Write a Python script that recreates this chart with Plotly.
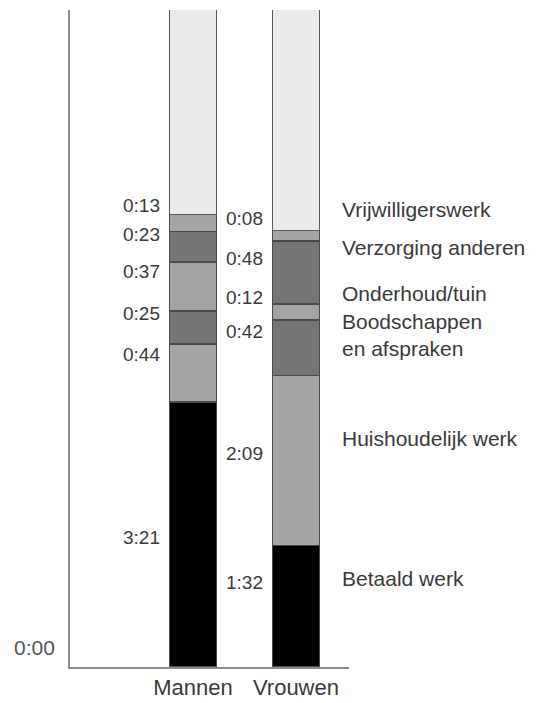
import plotly.graph_objects as go

categories = ["Mannen", "Vrouwen"]
activities = ["Betaald werk", "Huishoudelijk werk", "Boodschappen<br>en afspraken",
              "Onderhoud/tuin", "Verzorging anderen", "Vrijwilligerswerk"]
mannen = [201, 44, 25, 37, 23, 13]      # minutes per day
vrouwen = [92, 129, 42, 12, 48, 8]
day_minutes = 1440

colors = ["#000000", "#a4a4a4", "#767676", "#a4a4a4", "#767676", "#a4a4a4"]
rest_color = "#ebebeb"

# label vertical offsets (minutes) relative to segment centres - layout only
off_m = [-2.5, 14, 10.5, 11.5, 9.5, 13.5]
off_v = [18, 5.5, 12, 11, 11, 13]
off_r = [21, 17, 10, 14, 19, 20]

FONT = "Liberation Sans, Arial, sans-serif"
TXT = "#3a3a3a"

fig = go.Figure()
for k, act in enumerate(activities):
    fig.add_trace(go.Bar(
        x=[0, 1], y=[mannen[k], vrouwen[k]], name=act,
        marker=dict(color=colors[k], line=dict(color="#4a4a4a", width=1.5)),
        width=0.46, showlegend=False, hoverinfo="skip"))
fig.add_trace(go.Bar(
    x=[0, 1], y=[day_minutes - sum(mannen), day_minutes - sum(vrouwen)],
    marker=dict(color=rest_color, line=dict(color="#5a5a5a", width=1.5)),
    width=0.46, showlegend=False, hoverinfo="skip"))

def fmt(m):
    return f"{m // 60}:{m % 60:02d}"

ann = []
for i, (vals, offs) in enumerate([(mannen, off_m), (vrouwen, off_v)]):
    base = 0
    for k, v in enumerate(vals):
        c = base + v / 2
        ann.append(dict(x=i - 0.3, y=c + offs[k], xref="x", yref="y", text=fmt(v),
                        showarrow=False, xanchor="right", yanchor="middle",
                        font=dict(family=FONT, size=19, color=TXT)))
        base += v
base = 0
for k, v in enumerate(vrouwen):
    c = base + v / 2
    ann.append(dict(x=1.43, y=c + off_r[k], xref="x", yref="y", text=activities[k],
                    showarrow=False, xanchor="left", yanchor="middle", align="left",
                    font=dict(family=FONT, size=21, color=TXT)))
    base += v
ann.append(dict(x=0, y=0, xref="paper", yref="y", text="0:00", showarrow=False,
                xanchor="right", yanchor="bottom", xshift=-13, yshift=6,
                font=dict(family=FONT, size=21, color="#555555")))

fig.update_layout(
    barmode="stack", width=555, height=703,
    margin=dict(l=70, r=206, t=10, b=36),
    plot_bgcolor="white", paper_bgcolor="white",
    annotations=ann,
    xaxis=dict(range=[-1.194, 1.515], tickvals=[0, 1], ticktext=categories,
               showline=True, linecolor="#8c8c8c", linewidth=2, showgrid=False,
               zeroline=False, ticks="", automargin=False,
               tickfont=dict(family=FONT, size=22, color=TXT)),
    yaxis=dict(range=[0, 498], showline=True, linecolor="#8c8c8c", linewidth=2,
               showgrid=False, zeroline=False, showticklabels=False, ticks="",
               automargin=False),
)
fig.write_html("out.html", config={"displayModeBar": False},
               post_script="document.body.style.margin='0';document.body.style.overflow='hidden';")
